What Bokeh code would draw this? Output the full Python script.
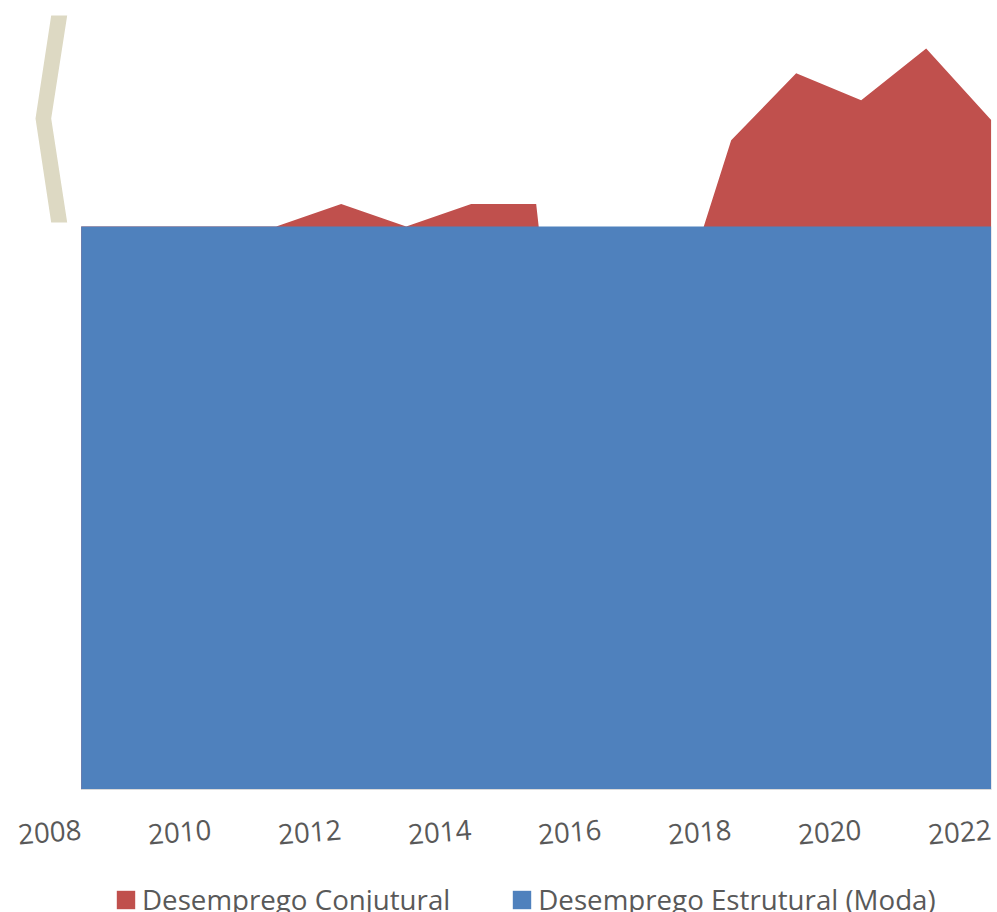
from bokeh.plotting import figure
from bokeh.layouts import column
from bokeh.models import Range1d, FixedTicker, Legend, LegendItem, PolyAnnotation, ColumnDataSource
from bokeh.embed import file_html
from bokeh.resources import INLINE

# ---- data ----
anos = [2008, 2009, 2010, 2011, 2012, 2013, 2014, 2015, 2016, 2017, 2018, 2019, 2020, 2021, 2022]
estrutural_moda = [10.0] * 15
conjuntural = [0.0, 0.0, 0.0, 0.0, 0.4, 0.0, 0.4, 0.4, -10.0, -2.1, 1.53, 2.72, 2.24, 3.16, 1.89]
tick_anos = [2008, 2010, 2012, 2014, 2016, 2018, 2020, 2022]
nomes = ["Desemprego Conjutural", "Desemprego Estrutural (Moda)"]

total = [e + c for e, c in zip(estrutural_moda, conjuntural)]
src = ColumnDataSource(dict(x=anos, base=[0.0] * len(anos), est=estrutural_moda, tot=total))

RED = "#C0504D"
BLUE = "#4F81BD"
GREY = "#595959"
FONT = "Open Sans"
FS = "27.7px"

H1 = 875
p = figure(width=997, height=H1, output_backend="svg", toolbar_location=None,
           x_range=Range1d(2007.22, 2022.005), y_range=Range1d(0, 13.80),
           min_border_left=30, min_border_right=6, min_border_top=12, min_border_bottom=H1 - 789)
p.outline_line_color = None
p.grid.visible = False
p.yaxis.visible = False

p.varea(x="x", y1="base", y2="tot", source=src, fill_color=RED)
p.varea(x="x", y1="base", y2="est", source=src, fill_color=BLUE)

ax = p.xaxis[0]
ax.ticker = FixedTicker(ticks=tick_anos)
ax.bounds = (anos[0], anos[-1])
ax.major_tick_line_color = None
ax.major_tick_out = 0
ax.major_tick_in = 0
ax.minor_tick_line_color = None
ax.axis_line_color = "#D9D9D9"
ax.major_label_orientation = 0.08
ax.major_label_standoff = 40
ax.major_label_text_font = FONT
ax.major_label_text_font_size = FS
ax.major_label_text_color = GREY

# decorative beige bracket at top-left (screen units, relative to the frame)
p.add_layout(PolyAnnotation(xs=[20.7, 36.7, 20.7, 36.7, 20.7, 5.0],
                            ys=[774.0, 774.0, 671.0, 567.0, 567.0, 671.0],
                            xs_units="screen", ys_units="screen",
                            fill_color="#DDD9C3", fill_alpha=1.0, line_color=None))

# legend strip below the chart (same series, outside of this strip's visible range)
pl = figure(width=997, height=912 - H1, output_backend="svg", toolbar_location=None,
            x_range=Range1d(0, 1), y_range=Range1d(0, 1),
            min_border_left=0, min_border_right=0, min_border_top=0, min_border_bottom=0)
pl.outline_line_color = None
pl.grid.visible = False
pl.axis.visible = False
lr = pl.varea(x="x", y1="base", y2="tot", source=src, fill_color=RED)
lb = pl.varea(x="x", y1="base", y2="est", source=src, fill_color=BLUE)
legend = Legend(items=[LegendItem(label=nomes[0], renderers=[lr]),
                       LegendItem(label=nomes[1], renderers=[lb])],
                orientation="horizontal", location=(84, -6),
                padding=0, margin=0, spacing=60, label_standoff=5,
                glyph_width=23, glyph_height=23,
                border_line_color=None, background_fill_alpha=0,
                label_text_font=FONT, label_text_font_size=FS, label_text_color=GREY)
pl.add_layout(legend, "center")

layout = column(p, pl, spacing=0)
open("out.html", "w").write(file_html(layout, INLINE))
